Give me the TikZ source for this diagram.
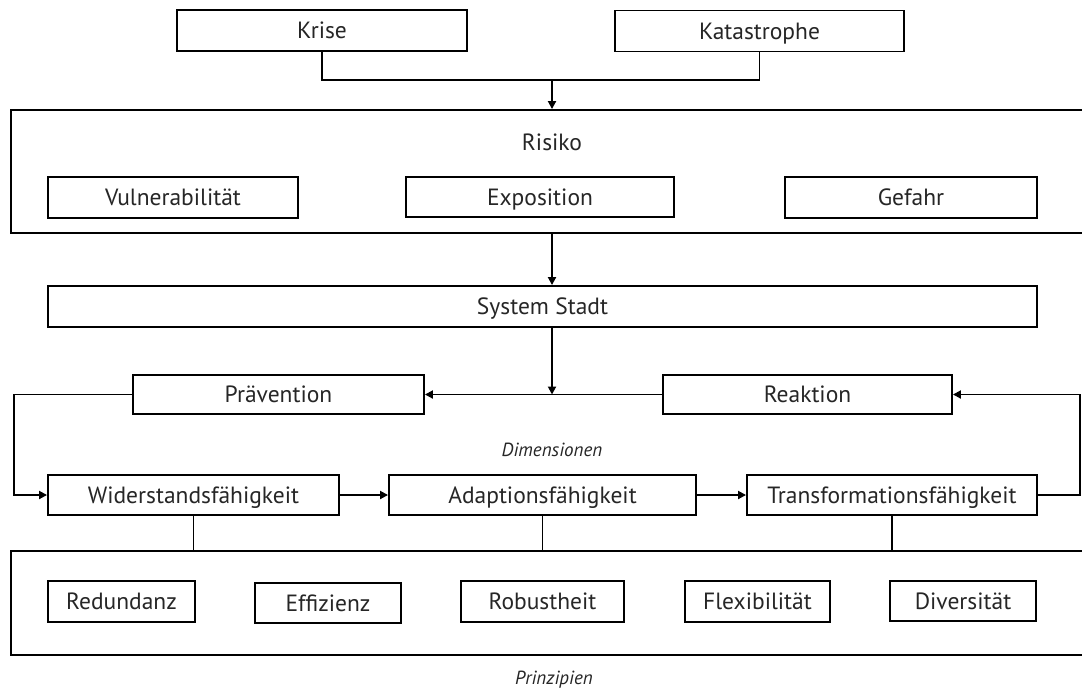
\documentclass[tikz,border=0pt]{standalone}
\usepackage{fontspec}
\setmainfont{PT Sans}
\usetikzlibrary{arrows.meta}
\tikzset{
  box/.style={draw=black, line width=1.9pt, rectangle, inner sep=0pt, text=black!85,
    font=\fontsize{23.5}{28}\selectfont, text height=20pt, text depth=3.6pt},
  frame/.style={draw=black, line width=1.9pt, rectangle, inner sep=0pt},
  conn/.style={draw=black, line width=1.9pt},
  arr/.style={conn, -{Triangle[length=8pt,width=8pt]}},
  lbl/.style={inner sep=0pt, text=black!85, font=\fontsize{23.5}{28}\selectfont},
  ilbl/.style={inner sep=0pt, text=black!85, font=\fontsize{19}{23}\selectfont\itshape}
}
\begin{document}
\begin{tikzpicture}[x=1pt,y=-1pt]
\useasboundingbox (0,0) rectangle (1082,691);
\clip (0,0) rectangle (1082,691);
\fill[white] (0,0) rectangle (1082,691);
% top
\node[box, minimum width=290pt, minimum height=41pt] (krise) at (322,30.5) {Krise};
\node[box, minimum width=289pt, minimum height=41pt] (kat) at (759.5,31) {Katastrophe};
% Risiko frame
\node[frame, minimum width=1089pt, minimum height=123pt] (risiko) at (555.5,171.5) {};
\node[lbl] (risikolbl) at (552,142) {Risiko};
\node[box, minimum width=250pt, minimum height=41pt] (vul) at (173,197.5) {Vulnerabilität};
\node[box, minimum width=268pt, minimum height=40pt] (expo) at (540,197) {Exposition};
\node[box, minimum width=252pt, minimum height=41pt] (gef) at (911,197.5) {Gefahr};
% System Stadt
\node[box, minimum width=989pt, minimum height=41pt] (stadt) at (542.5,306.5) {System Stadt};
% Praevention / Reaktion
\node[box, minimum width=291pt, minimum height=39pt] (prae) at (278.5,394.5) {Prävention};
\node[box, minimum width=289pt, minimum height=39pt] (reak) at (807.5,394.5) {Reaktion};
\node[ilbl] (dim) at (552,450) {Dimensionen};
% Faehigkeiten
\node[box, minimum width=291pt, minimum height=40pt] (wid) at (193.5,495) {Widerstandsfähigkeit};
\node[box, minimum width=307pt, minimum height=40pt] (ada) at (542.5,495) {Adaptionsfähigkeit};
\node[box, minimum width=290pt, minimum height=40pt] (tra) at (892,495) {Transformationsfähigkeit};
% Prinzipien frame
\node[frame, minimum width=1089pt, minimum height=104pt] (prinz) at (555.5,603) {};
\node[box, minimum width=147pt, minimum height=41pt] (red) at (121.5,601.5) {Redundanz};
\node[box, minimum width=146pt, minimum height=40pt] (eff) at (328,603) {Effizienz};
\node[box, minimum width=163pt, minimum height=41pt] (rob) at (542.5,601.5) {Robustheit};
\node[box, minimum width=145pt, minimum height=41pt] (flex) at (757.5,601.5) {Flexibilität};
\node[box, minimum width=146pt, minimum height=40pt] (div) at (963,601) {Diversität};
\node[ilbl] (prinzlbl) at (554,680) {Prinzipien};
% connectors
\coordinate (j1) at (552,80);
\coordinate (j2) at (552,394.5);
\coordinate (l1) at (14,394.5);
\coordinate (r1) at (1080,394.5);
\draw[conn] (krise.south) |- (j1) -| (kat.south);
\draw[arr] (j1) -- (j1 |- risiko.north);
\draw[arr] (j1 |- risiko.south) -- (j1 |- stadt.north);
\draw[arr] (j1 |- stadt.south) -- (j2);
\draw[arr] (reak.west) -- (prae.east);
\draw[arr] (prae.west) -- (l1) |- (wid.west);
\draw[arr] (wid.east) -- (ada.west);
\draw[arr] (ada.east) -- (tra.west);
\draw[arr] (tra.east) -| (r1) -- (reak.east);
\draw[conn] (wid.south) -- (wid.south |- prinz.north);
\draw[conn] (ada.south) -- (ada.south |- prinz.north);
\draw[conn] (tra.south) -- (tra.south |- prinz.north);
\end{tikzpicture}
\end{document}
